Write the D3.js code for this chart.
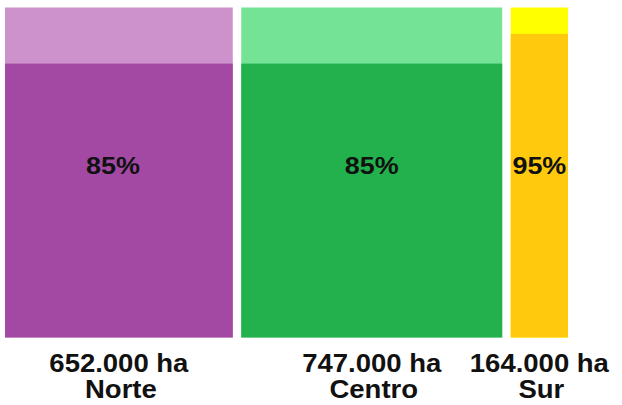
<!DOCTYPE html>
<html>
<head>
<meta charset="utf-8">
<script src="https://cdn.jsdelivr.net/npm/d3@7"></script>
<style>
  body { margin: 0; background: #fff; }
  text { font-family: "Liberation Sans", Arial, sans-serif; font-weight: bold; fill: #111; }
</style>
</head>
<body>
<div class="viz"></div>
<script>
var regions = [ "Norte", "Centro", "Sur" ],
    hectares = [ 652000, 747000, 164000 ],
    haLabels = [ "652.000 ha", "747.000 ha", "164.000 ha" ],
    darkShare = [ 83, 83, 92 ],
    pctLabels = [ "85%", "85%", "95%" ],
    darkColors = [ "#a349a4", "#22b14c", "#ffc90e" ],
    lightColors = [ "#cd91cc", "#75e396", "#ffff00" ];

var width = 622,
    height = 405,
    margin = { top: 7.5, left: 5, bottom: 67 },
    gap = 8.5,
    plotRight = 568;

var svg = d3.select( ".viz" )
    .append( "svg" )
    .attr( "width", width )
    .attr( "height", height );

var total = d3.sum( hectares );
var x = d3.scaleLinear()
    .domain( [ 0, total ] )
    .range( [ 0, plotRight - margin.left - gap * ( regions.length - 1 ) ] );
var y = d3.scaleLinear()
    .domain( [ 0, 100 ] )
    .range( [ height - margin.bottom - 0.5, margin.top ] );

var data = regions.map( function( r, i ) {
    var start = d3.sum( hectares.slice( 0, i ) );
    return {
        name: r,
        ha: haLabels[ i ],
        pct: pctLabels[ i ],
        dark: darkShare[ i ],
        x0: margin.left + x( start ) + i * gap,
        w: x( hectares[ i ] ),
        i: i
    };
} );

var cols = svg.selectAll( ".col" )
    .data( data )
    .enter()
    .append( "g" )
    .attr( "class", "col" );

// light upper part (100%)
cols.append( "rect" )
    .attr( "x", function( d ) { return d.x0; } )
    .attr( "y", y( 100 ) )
    .attr( "width", function( d ) { return d.w; } )
    .attr( "height", y( 0 ) - y( 100 ) )
    .style( "fill", function( d ) { return lightColors[ d.i ]; } );

// dark covered part
cols.append( "rect" )
    .attr( "x", function( d ) { return d.x0; } )
    .attr( "y", function( d ) { return y( d.dark ); } )
    .attr( "width", function( d ) { return d.w; } )
    .attr( "height", function( d ) { return y( 0 ) - y( d.dark ); } )
    .style( "fill", function( d ) { return darkColors[ d.i ]; } );

function stretchedText( sel, txt, cx, cy, size ) {
    sel.append( "g" )
        .attr( "transform", "translate(" + cx + "," + cy + ") scale(1.1,1)" )
        .append( "text" )
        .attr( "text-anchor", "middle" )
        .style( "font-size", size + "px" )
        .text( txt );
}

cols.each( function( d ) {
    var g = d3.select( this ),
        cx = d.x0 + d.w / 2;
    stretchedText( g, d.pct, cx + ( d.i === 0 ? -6 : 0 ), 174, 24.5 );
    stretchedText( g, d.ha, cx, 372, 25 );
    stretchedText( g, d.name, cx + 2, 398, 25 );
} );
</script>
</body>
</html>
